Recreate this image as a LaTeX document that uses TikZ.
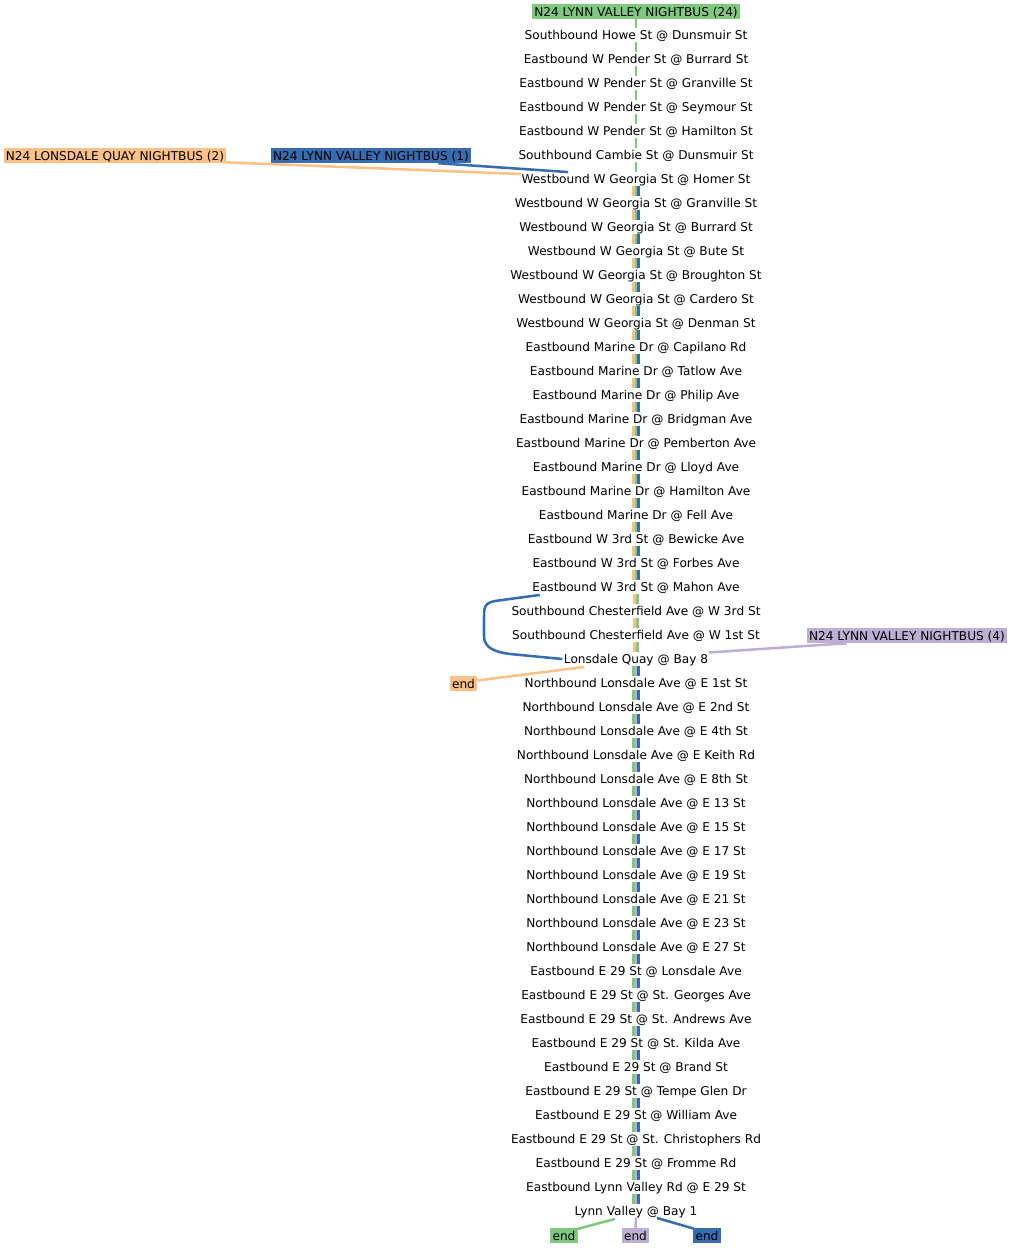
\documentclass[tikz,border=0pt]{standalone}
\usepackage{fontspec}
\setmainfont{DejaVu Sans}
\usetikzlibrary{calc}
\definecolor{cgreen}{HTML}{7FC97F}
\definecolor{corange}{HTML}{FDC086}
\definecolor{cpurple}{HTML}{BEAED4}
\definecolor{cblue}{HTML}{386CB0}
\tikzset{
  stop/.style={inner xsep=1pt, inner ysep=0pt, text height=8.7pt, text depth=1.3pt, font=\fontsize{9.1pt}{11pt}\selectfont},
  tag/.style={stop, inner xsep=1.6pt, inner ysep=0.6pt},
  route/.style={line width=1.9pt},
  rg/.style={route, draw=cgreen},
  ro/.style={route, draw=corange},
  rp/.style={route, draw=cpurple},
  rb/.style={route, draw=cblue},
}
\begin{document}
\begin{tikzpicture}[x=0.75pt,y=-0.75pt]
\useasboundingbox[fill=white] (0,0) rectangle (1012,1248);
% title and stops
\node[tag, fill=cgreen] (s0) at (636,11.5) {N24 LYNN VALLEY NIGHTBUS (24)};
\foreach \t [count=\i from 1] in {
Southbound Howe St @ Dunsmuir St,
Eastbound W Pender St @ Burrard St,
Eastbound W Pender St @ Granville St,
Eastbound W Pender St @ Seymour St,
Eastbound W Pender St @ Hamilton St,
Southbound Cambie St @ Dunsmuir St,
Westbound W Georgia St @ Homer St,
Westbound W Georgia St @ Granville St,
Westbound W Georgia St @ Burrard St,
Westbound W Georgia St @ Bute St,
Westbound W Georgia St @ Broughton St,
Westbound W Georgia St @ Cardero St,
Westbound W Georgia St @ Denman St,
Eastbound Marine Dr @ Capilano Rd,
Eastbound Marine Dr @ Tatlow Ave,
Eastbound Marine Dr @ Philip Ave,
Eastbound Marine Dr @ Bridgman Ave,
Eastbound Marine Dr @ Pemberton Ave,
Eastbound Marine Dr @ Lloyd Ave,
Eastbound Marine Dr @ Hamilton Ave,
Eastbound Marine Dr @ Fell Ave,
Eastbound W 3rd St @ Bewicke Ave,
Eastbound W 3rd St @ Forbes Ave,
Eastbound W 3rd St @ Mahon Ave,
Southbound Chesterfield Ave @ W 3rd St,
Southbound Chesterfield Ave @ W 1st St,
Lonsdale Quay @ Bay 8,
Northbound Lonsdale Ave @ E 1st St,
Northbound Lonsdale Ave @ E 2nd St,
Northbound Lonsdale Ave @ E 4th St,
Northbound Lonsdale Ave @ E Keith Rd,
Northbound Lonsdale Ave @ E 8th St,
Northbound Lonsdale Ave @ E 13 St,
Northbound Lonsdale Ave @ E 15 St,
Northbound Lonsdale Ave @ E 17 St,
Northbound Lonsdale Ave @ E 19 St,
Northbound Lonsdale Ave @ E 21 St,
Northbound Lonsdale Ave @ E 23 St,
Northbound Lonsdale Ave @ E 27 St,
Eastbound E 29 St @ Lonsdale Ave,
Eastbound E 29 St @ St. Georges Ave,
Eastbound E 29 St @ St. Andrews Ave,
Eastbound E 29 St @ St. Kilda Ave,
Eastbound E 29 St @ Brand St,
Eastbound E 29 St @ Tempe Glen Dr,
Eastbound E 29 St @ William Ave,
Eastbound E 29 St @ St. Christophers Rd,
Eastbound E 29 St @ Fromme Rd,
Eastbound Lynn Valley Rd @ E 29 St,
Lynn Valley @ Bay 1}
{ \node[stop] (s\i) at (636,{11+24*\i}) {\t}; }
% side labels
\node[tag, fill=corange] (lq2) at (115,155.5) {N24 LONSDALE QUAY NIGHTBUS (2)};
\node[tag, fill=cblue] (lv1) at (371,155.5) {N24 LYNN VALLEY NIGHTBUS (1)};
\node[tag, fill=cpurple] (lv4) at (907,635.5) {N24 LYNN VALLEY NIGHTBUS (4)};
\node[tag, fill=corange] (eo) at (463.5,683.5) {end};
\node[tag, fill=cgreen] (eg) at (564,1235.5) {end};
\node[tag, fill=cpurple] (ep) at (635.5,1235.5) {end};
\node[tag, fill=cblue] (eb) at (707,1235.5) {end};
% trunk segments
\foreach \k in {0,...,6}{
  \pgfmathtruncatemacro\n{\k+1}
  \draw[rg] (s\k.south) -- (s\n.north);
}
\foreach \k in {7,...,23}{
  \pgfmathtruncatemacro\n{\k+1}
  \draw[ro] ([xshift=-2pt]s\k.south) -- ([xshift=-2pt]s\n.north);
  \draw[rg] (s\k.south) -- (s\n.north);
  \draw[rb] ([xshift=2pt]s\k.south) -- ([xshift=2pt]s\n.north);
}
\foreach \k in {24,25,26}{
  \pgfmathtruncatemacro\n{\k+1}
  \draw[ro] ([xshift=-1pt]s\k.south) -- ([xshift=-1pt]s\n.north);
  \draw[rg] ([xshift=1pt]s\k.south) -- ([xshift=1pt]s\n.north);
}
\foreach \k in {27,...,49}{
  \pgfmathtruncatemacro\n{\k+1}
  \draw[rg] ([xshift=-2pt]s\k.south) -- ([xshift=-2pt]s\n.north);
  \draw[rp] (s\k.south) -- (s\n.north);
  \draw[rb] ([xshift=2pt]s\k.south) -- ([xshift=2pt]s\n.north);
}
% side connectors
\draw[ro] ($(lq2.south east)+(-3,-1)$) -- ($(s7.north west)+(1,2)$);
\draw[rb] ($(lv1.south east)+(-33,0)$) -- ($(s7.north west)+(48,0)$);
\draw[rb] ($(s24.south west)+(9,1)$) -- (495,601)
  .. controls (484,603) and (484,608) .. (484,618) -- (484,636)
  .. controls (484,648) and (495,652) .. (510,654) -- (s27.west);
\draw[ro] ($(s27.south west)+(22,1)$) -- ($(eo.east)+(0,-3)$);
\draw[rp] ($(s27.east)+(-1,-6.5)$) -- ($(lv4.south west)+(40,0)$);
\draw[rg] ($(s50.south west)+(42,1)$) -- ($(eg.north east)+(0,1)$);
\draw[rp] (s50.south) -- (ep.north);
\draw[rb] ($(s50.south east)+(-42,0)$) -- ($(eb.north west)+(1,1)$);
\end{tikzpicture}
\end{document}
